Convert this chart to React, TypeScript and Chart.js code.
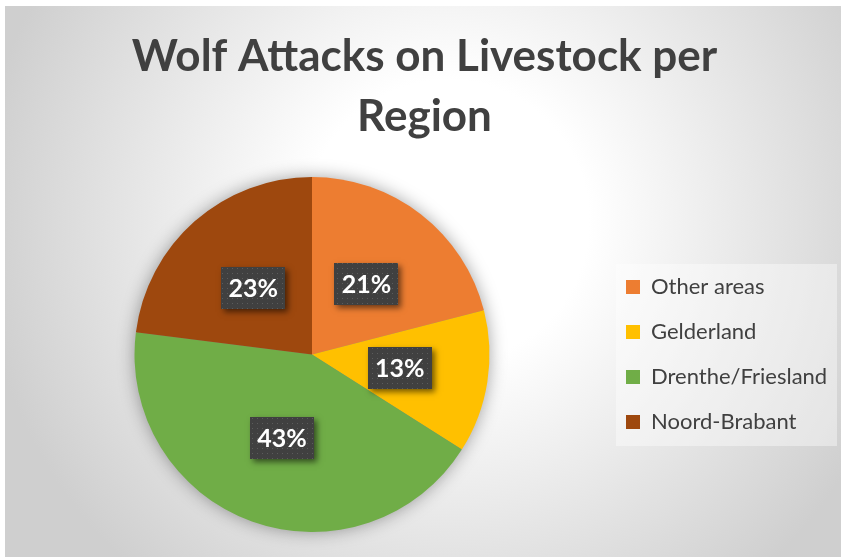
import React, { useEffect, useRef } from 'react';
import { Chart, registerables } from 'chart.js';

Chart.register(...registerables);

const regions = ['Other areas', 'Gelderland', 'Drenthe/Friesland', 'Noord-Brabant'];
const shares = [21, 13, 43, 23];
const sliceColors = ['#ED7D31', '#FFC000', '#70AD47', '#9E480E'];
const titleLines = ['Wolf Attacks on Livestock per', 'Region'];

const FONT = 'Lato, "Noto Sans", sans-serif';
const TEXT_COLOR = '#404040';

function makePattern(ctx: CanvasRenderingContext2D) {
  const c = document.createElement('canvas');
  c.width = 5;
  c.height = 5;
  const g = c.getContext('2d')!;
  g.fillStyle = '#404040';
  g.fillRect(0, 0, 5, 5);
  g.fillStyle = '#5c5c5c';
  g.fillRect(2, 2, 1, 1);
  return ctx.createPattern(c, 'repeat');
}

const pieShadow = {
  id: 'pieShadow',
  beforeDatasetsDraw(chart: any) {
    const meta = chart.getDatasetMeta(0);
    const arc = meta.data[0];
    if (!arc) return;
    const { x, y, outerRadius } = arc.getProps(['x', 'y', 'outerRadius'], true);
    const ctx = chart.ctx;
    ctx.save();
    ctx.shadowColor = 'rgba(0,0,0,0.4)';
    ctx.shadowBlur = 18;
    ctx.shadowOffsetX = 0;
    ctx.shadowOffsetY = 0;
    ctx.beginPath();
    ctx.arc(x, y, outerRadius - 1, 0, Math.PI * 2);
    ctx.fillStyle = '#888888';
    ctx.fill();
    ctx.restore();
  },
};

const legendBackground = {
  id: 'legendBackground',
  beforeDraw(chart: any) {
    const lg = chart.legend;
    if (!lg || !lg.legendHitBoxes || !lg.legendHitBoxes.length) return;
    const hb = lg.legendHitBoxes;
    const first = hb[0];
    const last = hb[hb.length - 1];
    const left = first.left - 10;
    const top = first.top + first.height / 2 - 23;
    const bottom = last.top + last.height / 2 + 24;
    const ctx = chart.ctx;
    ctx.save();
    ctx.fillStyle = 'rgba(255,255,255,0.4)';
    ctx.fillRect(left, top, 221, bottom - top);
    ctx.restore();
  },
};

const sliceLabels = {
  id: 'sliceLabels',
  afterDatasetsDraw(chart: any) {
    const ctx = chart.ctx;
    const meta = chart.getDatasetMeta(0);
    const data = chart.data.datasets[0].data as number[];
    const total = data.reduce((a, b) => a + b, 0);
    const pattern = makePattern(ctx);
    meta.data.forEach((arc: any, i: number) => {
      const pos = arc.tooltipPosition(true);
      const text = Math.round((data[i] / total) * 100) + '%';
      const w = 64;
      const h = 42;
      const bx = Math.round(pos.x - w / 2);
      const by = Math.round(pos.y - h / 2);
      ctx.save();
      ctx.shadowColor = 'rgba(0,0,0,0.55)';
      ctx.shadowBlur = 6;
      ctx.shadowOffsetX = 3;
      ctx.shadowOffsetY = 3;
      ctx.fillStyle = '#404040';
      ctx.fillRect(bx, by, w, h);
      ctx.restore();
      ctx.save();
      ctx.fillStyle = pattern || '#404040';
      ctx.fillRect(bx, by, w, h);
      ctx.fillStyle = '#ffffff';
      ctx.font = `bold 25px ${FONT}`;
      ctx.textAlign = 'center';
      ctx.textBaseline = 'middle';
      ctx.fillText(text, pos.x, pos.y + 1);
      ctx.restore();
    });
  },
};

export default function App() {
  const ref = useRef<HTMLCanvasElement | null>(null);

  useEffect(() => {
    if (!ref.current) return;
    const chart = new Chart(ref.current, {
      type: 'pie',
      data: {
        labels: regions,
        datasets: [
          {
            data: shares,
            backgroundColor: sliceColors,
            borderWidth: 0,
          },
        ],
      },
      options: {
        animation: false,
        responsive: false,
        maintainAspectRatio: false,
        layout: { padding: { left: 16, right: 13, top: 0, bottom: 25 } },
        plugins: {
          tooltip: { enabled: false },
          title: {
            display: true,
            text: titleLines,
            color: TEXT_COLOR,
            font: { family: FONT, size: 44, weight: 'bold', lineHeight: '60px' },
            padding: { top: 21, bottom: 30 },
          },
          legend: {
            display: true,
            position: 'right',
            align: 'center',
            fullSize: false,
            maxWidth: 225,
            labels: {
              color: TEXT_COLOR,
              font: { family: FONT, size: 22 },
              boxWidth: 14,
              boxHeight: 14,
              padding: 23,
            },
          },
        },
      },
      plugins: [pieShadow, legendBackground, sliceLabels],
    });
    return () => chart.destroy();
  }, []);

  return (
    <div
      style={{
        position: 'fixed',
        left: 5,
        top: 6,
        width: 836,
        height: 551,
        background:
          'radial-gradient(circle 470px at 53% 39%, #ffffff 0%, #ffffff 30%, #cfcfcf 100%)',
      }}
    >
      <canvas ref={ref} width={836} height={551} style={{ display: 'block' }} />
    </div>
  );
}
